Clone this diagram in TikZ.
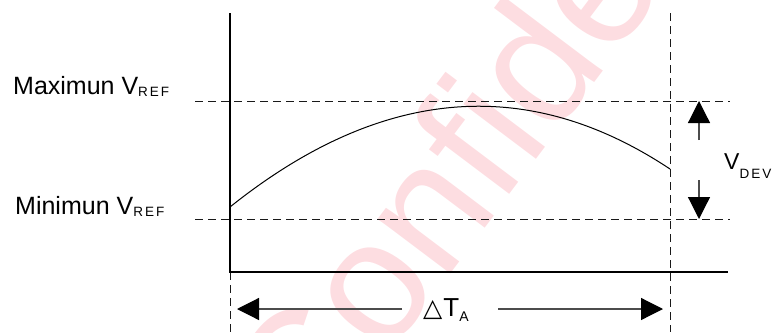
\documentclass[tikz,border=0pt]{standalone}
\usepackage{fontspec}
\setmainfont{Liberation Sans}
\newfontfamily\symfont{DejaVu Sans}
\usetikzlibrary{arrows.meta}
\definecolor{wmpink}{RGB}{253,221,225}
\newcommand{\lowsub}[3]{\raisebox{#1}{\fontsize{#2}{#2}\selectfont #3}}
\newcommand{\refsub}{R\hspace{2pt}E\hspace{2pt}F}
\tikzset{
  dline/.style={dash pattern=on 8pt off 5pt, line width=1pt, black!90},
  axisline/.style={line width=1.2pt, black},
  bigarrow/.style={line width=1.2pt, black!70, -{Triangle[length=22pt,width=22pt,color=black]}},
  lbl/.style={inner sep=0pt, anchor=base west, font=\fontsize{25}{30}\selectfont},
  watermark/.style={inner sep=0pt, anchor=base west, text=wmpink, font=\fontsize{172}{172}\selectfont, rotate=53},
}
\begin{document}
\begin{tikzpicture}[x=1pt,y=-1pt]
\useasboundingbox (0,0) rectangle (773,332);
% watermark
\node[watermark] (wm) at (311,459) {Confidential};
% coordinates
\coordinate (ytop) at (230,13);
\coordinate (origin) at (230,272);
\coordinate (xend) at (728,272);
\coordinate (maxL) at (195,101);
\coordinate (maxR) at (730,101);
\coordinate (minL) at (195,219);
\coordinate (minR) at (730,219);
\coordinate (vtop) at (670,13);
\coordinate (vbot) at (670,332);
\coordinate (lbot) at (230,332);
\coordinate (cstart) at (230,207);
\coordinate (cend) at (670,169);
% dashed guides
\draw[dline] (maxL) -- (maxR);
\draw[dline] (minL) -- (minR);
\draw[dline] (vtop) -- (vbot);
\draw[dline] (origin) -- (lbot);
% axes
\draw[axisline] (ytop) -- (origin) -- (xend);
% curve
\draw[line width=1pt] (cstart) .. controls (380,87) and (527,74) .. (cend);
% V_DEV arrows
\coordinate (upS) at (699,140);
\coordinate (upT) at (699,101);
\coordinate (dnS) at (699,180);
\coordinate (dnT) at (699,219);
\draw[bigarrow] (upS) -- (upT);
\draw[bigarrow] (dnS) -- (dnT);
% delta T arrows
\coordinate (lS) at (402,309);
\coordinate (lT) at (237,309);
\coordinate (rS) at (498,309);
\coordinate (rT) at (663,309);
\draw[bigarrow] (lS) -- (lT);
\draw[bigarrow] (rS) -- (rT);
% labels
\node[lbl] (maxlab) at (13,94) {Maximun V\lowsub{-2pt}{13.5}{\refsub}};
\node[lbl] (minlab) at (15,214) {Minimun V\lowsub{-2pt}{13.5}{\refsub}};
\node[lbl, font=\fontsize{23}{28}\selectfont] (vdev) at (724,169) {V\lowsub{-9pt}{13.5}{D\hspace{2pt}E\hspace{2pt}V}};
\node[lbl, font=\fontsize{26}{30}\selectfont] (dta) at (423,316) {{\symfont\fontsize{25}{28}\selectfont △}\hspace{1pt}T\lowsub{-5pt}{14}{A}};
\end{tikzpicture}
\end{document}
